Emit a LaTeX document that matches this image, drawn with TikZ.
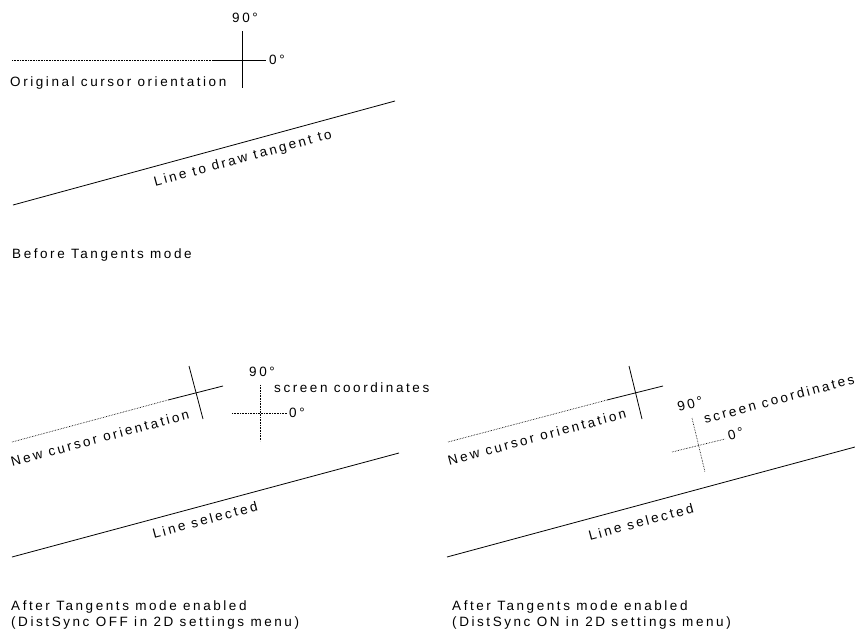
\documentclass[tikz,border=0pt]{standalone}
\usepackage{fontspec}
\setmainfont{Liberation Sans}[LetterSpace=19]
\begin{document}
\begin{tikzpicture}[
        x=1pt, y=-1pt,
        % --- Line styles ---
        solidline/.style={line width=0.8pt},
        dotline/.style={line width=0.7pt, dash pattern=on 0.6pt off 1pt},
        % --- Text styles ---
        label/.style={font=\fontsize{13.5}{15.5}\selectfont, inner sep=0pt},
        caption/.style={label, anchor=base west, align=left},
    ]

    % ===== Canvas (855 x 635, y down) =====
    \useasboundingbox (0,0) rectangle (855,635);

    % ===== Top panel: before Tangents mode =====
    \coordinate (top cross) at (242,60);
    \draw[dotline]   (12,60) -- (213,60);
    \draw[solidline] (213,60) -- (266,60);
    \draw[solidline] (242,31) -- (242,88);
    \node[label] (top ninety) at (245,18) {90°};
    \node[label, anchor=west] (top zero) at (269,60) {0°};
    \node[caption] (orig cursor) at (10,86) {Original cursor orientation};

    \coordinate (tangent start) at (13,205);
    \coordinate (tangent end) at (395,101);
    \draw[solidline] (tangent start) -- (tangent end);
    \node[label, rotate=15.2] (tangent label) at (243,159) {Line to draw tangent to};

    \node[caption] (before caption) at (12,258) {Before Tangents mode};

    % ===== Bottom left panel: DistSync OFF =====
    \coordinate (left line start) at (12,557);
    \coordinate (left line end) at (399,453);
    \draw[solidline] (left line start) -- (left line end);
    \node[label, rotate=15] (left line label) at (205,520) {Line selected};

    % new cursor (tilted)
    \draw[dotline]   (12,442) -- (168,400);
    \draw[solidline] (168,400) -- (223,386);
    \draw[solidline] (189,366) -- (203,419);
    \node[label, rotate=15] (left new cursor) at (100,438) {New cursor orientation};

    % screen coordinates (upright)
    \draw[dotline] (232,413) -- (287,413);
    \draw[dotline] (260,385) -- (260,441);
    \node[label] (left ninety) at (262,372) {90°};
    \node[label, anchor=west] (left screen) at (274,388) {screen coordinates};
    \node[label, anchor=west] (left zero) at (289,413) {0°};

    \node[caption] (off caption) at (11,626)
        {After Tangents mode enabled\\(DistSync OFF in 2D settings menu)};

    % ===== Bottom right panel: DistSync ON =====
    \coordinate (right line start) at (447,557);
    \coordinate (right line end) at (855,447);
    \draw[solidline] (right line start) -- (right line end);
    \node[label, rotate=15] (right line label) at (641,522) {Line selected};

    % new cursor (tilted)
    \draw[dotline]   (448,442) -- (607,400);
    \draw[solidline] (607,400) -- (663,386);
    \draw[solidline] (629,366) -- (642,419);
    \node[label, rotate=15] (right new cursor) at (537,437) {New cursor orientation};

    % screen coordinates (tilted)
    \draw[dotline] (672,452) -- (725,439);
    \draw[dotline] (692,418) -- (705,472);
    \node[label, rotate=15] (right ninety) at (690,404) {90°};
    \node[label, rotate=15] (right screen) at (779,399) {screen coordinates};
    \node[label, rotate=15, anchor=west] (right zero) at (728,436) {0°};

    \node[caption] (on caption) at (452,626)
        {After Tangents mode enabled\\(DistSync ON in 2D settings menu)};

\end{tikzpicture}
\end{document}
